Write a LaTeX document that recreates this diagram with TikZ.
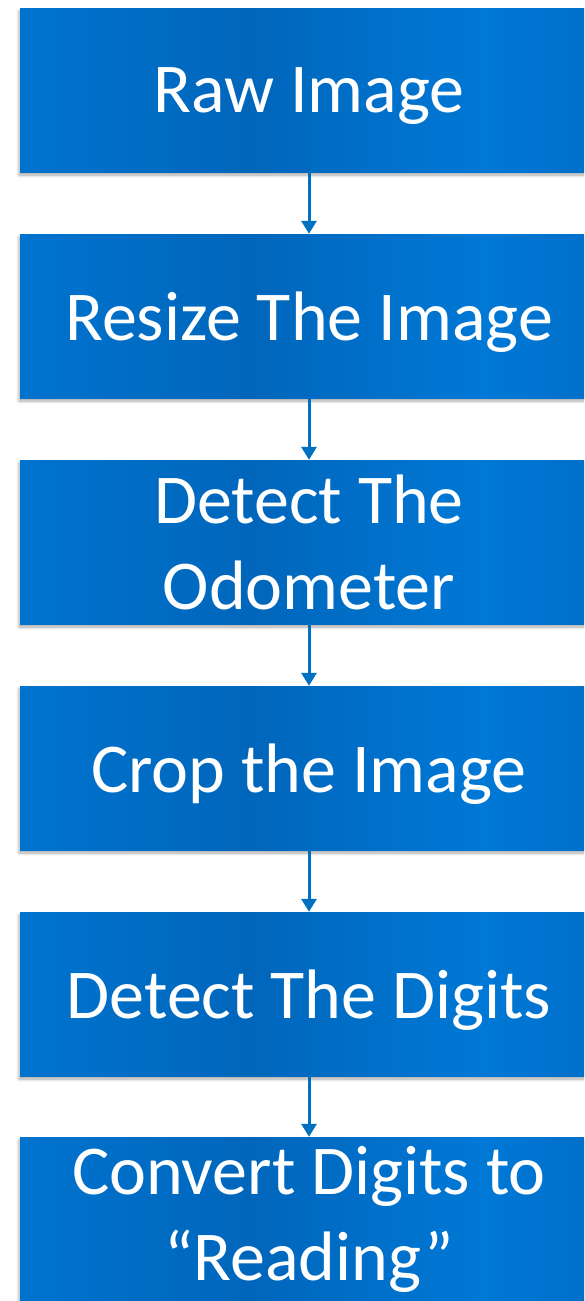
\documentclass[tikz,border=0pt]{standalone}
\usepackage{fontspec}
\setmainfont{Carlito}
\usetikzlibrary{arrows.meta,shadows.blur}
\definecolor{boxdark}{HTML}{0066BB}
\definecolor{boxlight}{HTML}{0078D6}
\definecolor{arrowblue}{HTML}{0070C0}
\pgfdeclarehorizontalshading{boxband}{100bp}{%
  color(0bp)=(boxdark);
  color(18bp)=(boxlight);
  color(45bp)=(boxdark);
  color(65bp)=(boxlight);
  color(85bp)=(boxdark);
  color(100bp)=(boxlight)}
\tikzset{
  stepbox/.style={rectangle, minimum width=578pt, minimum height=164pt,
    inner sep=0pt, shading=boxband, shading angle=0,
    blur shadow={shadow xshift=-1pt, shadow yshift=-3pt, shadow blur steps=6,
      shadow opacity=35, shadow blur radius=3pt},
    text=white, align=center, font=\fontsize{70}{86}\selectfont},
  oneline/.style={text depth=0pt},
  flow/.style={arrowblue, line width=3pt,
    -{Triangle[width=15pt,length=13pt]}}
}
\begin{document}
\begin{tikzpicture}[x=1pt,y=1pt]
\useasboundingbox (0,0) rectangle (584,-1301);
\clip (0,0) rectangle (584,-1301);
\node[stepbox,oneline] (raw)     at (309,-90)   {Raw Image};
\node[stepbox,oneline] (resize)  at (309,-316)  {Resize The Image};
\node[stepbox]         (odo)     at (309,-542)  {Detect The\\Odometer};
\node[stepbox,oneline] (crop)    at (309,-768)  {Crop the Image};
\node[stepbox,oneline] (digits)  at (309,-994)  {Detect The Digits};
\node[stepbox]         (convert) at (309,-1219) {Convert Digits to\\“Reading”};
\draw[flow] (raw.south)    -- (resize.north);
\draw[flow] (resize.south) -- (odo.north);
\draw[flow] (odo.south)    -- (crop.north);
\draw[flow] (crop.south)   -- (digits.north);
\draw[flow] (digits.south) -- (convert.north);
\end{tikzpicture}
\end{document}
